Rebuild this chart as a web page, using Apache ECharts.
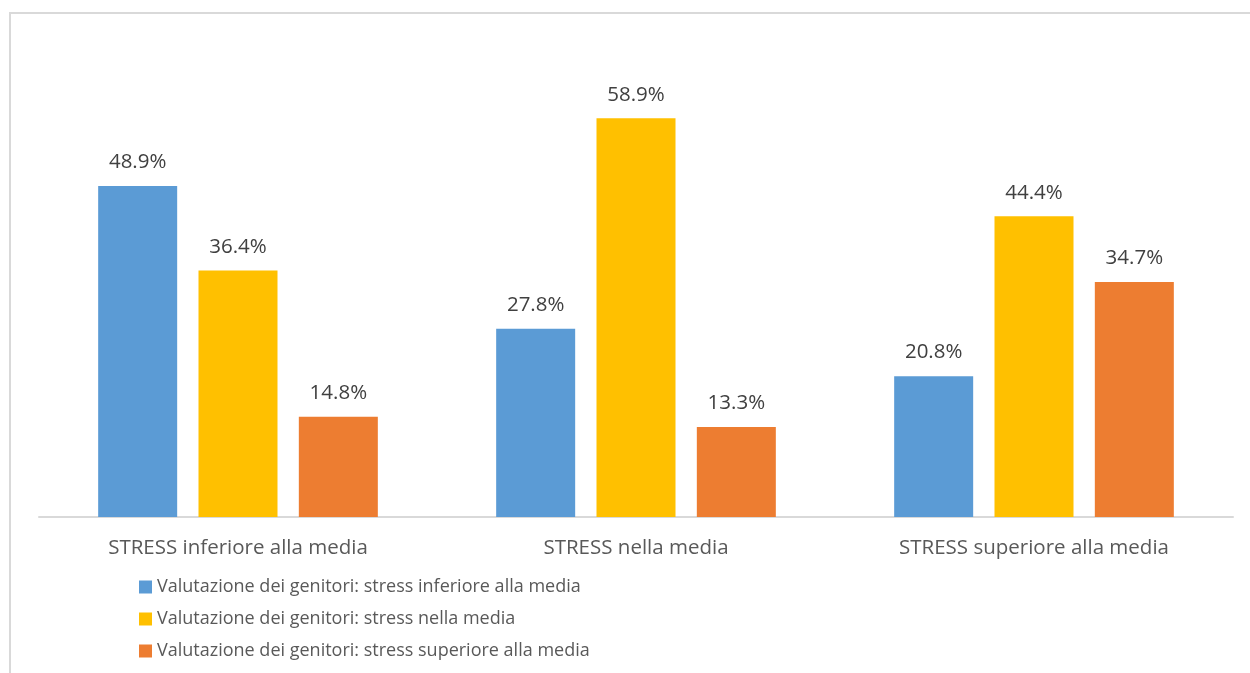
<!DOCTYPE html>
<html><head><meta charset="utf-8">
<script src="https://cdn.jsdelivr.net/npm/echarts@6/dist/echarts.min.js"></script>
<style>html,body{margin:0;padding:0;background:#fff}#c{width:1250px;height:673px}</style>
</head><body><div id="c"></div>
<script>
var categories = ["STRESS inferiore alla media", "STRESS nella media", "STRESS superiore alla media"];
var seriesNames = ["Valutazione dei genitori: stress inferiore alla media", "Valutazione dei genitori: stress nella media", "Valutazione dei genitori: stress superiore alla media"];
var inferiore = [48.9, 27.8, 20.8];
var nella = [36.4, 58.9, 44.4];
var superiore = [14.8, 13.3, 34.7];
var colors = ["#5b9bd5", "#ffc000", "#ed7d31"];

var chart = echarts.init(document.getElementById('c'));
var font = "'Open Sans', 'Noto Sans', sans-serif";
function mk(name, data, color) {
  return {
    name: name, type: 'bar', data: data, barWidth: 79, barGap: '27%',
    itemStyle: { color: color },
    label: { show: true, position: 'top', distance: 13, color: '#404040', fontSize: 20.5, fontFamily: font,
      formatter: function (p) { return p.value.toFixed(1) + '%'; } }
  };
}
chart.setOption({
  animation: false,
  textStyle: { fontFamily: font },
  graphic: [{ type: 'rect', shape: { x: 10, y: 13, width: 1300, height: 700 }, style: { fill: 'none', stroke: '#d9d9d9', lineWidth: 2 }, z: -1 }],
  grid: { left: 39, right: 17, top: 43, bottom: 156 },
  xAxis: { type: 'category', data: categories, axisTick: { show: false },
    axisLine: { lineStyle: { color: '#d9d9d9', width: 2 } },
    axisLabel: { color: '#595959', fontSize: 20.5, fontFamily: font, margin: 21 } },
  yAxis: { type: 'value', min: 0, max: 70, show: false, splitLine: { show: false } },
  legend: { orient: 'vertical', left: 134, top: 573, itemWidth: 13, itemHeight: 13, itemGap: 14,
    icon: 'rect', textStyle: { color: '#595959', fontSize: 18, fontFamily: font }, data: seriesNames },
  series: [mk(seriesNames[0], inferiore, colors[0]), mk(seriesNames[1], nella, colors[1]), mk(seriesNames[2], superiore, colors[2])]
});
</script></body></html>
